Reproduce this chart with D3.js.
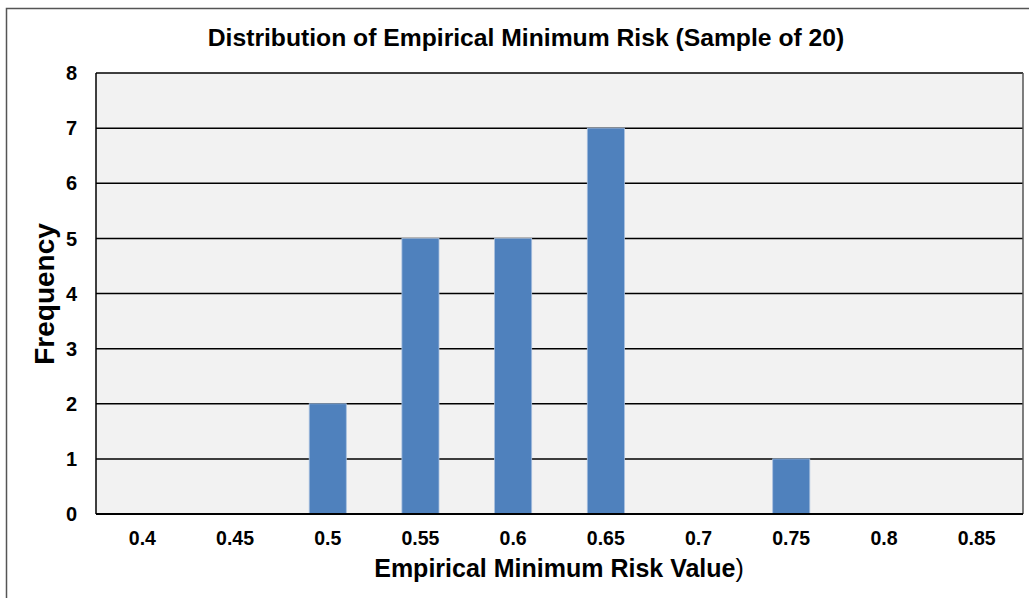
<!DOCTYPE html>
<html><head><meta charset="utf-8">
<script src="https://cdn.jsdelivr.net/npm/d3@7"></script>
<style>body{margin:0;background:#fff}svg{display:block}text{font-family:Arial,"Liberation Sans",sans-serif}</style>
</head><body><svg id="c" width="1029" height="598"></svg>
<script>
const categories = ["0.4","0.45","0.5","0.55","0.6","0.65","0.7","0.75","0.8","0.85"];
const frequencies = [0,0,2,5,5,7,0,1,0,0];
const yTicks = [0,1,2,3,4,5,6,7,8];
const titleText = "Distribution of Empirical Minimum Risk (Sample of 20)";
const xTitle = "Empirical Minimum Risk Value";
const yTitle = "Frequency";

const svg = d3.select("#c");
const m = {l:96, t:73, r:1023, b:514};
svg.append("rect").attr("x",6.5).attr("y",8.5).attr("width",1040).attr("height",620)
  .attr("fill","#fff").attr("stroke","#555").attr("stroke-width",1.5);

const x = d3.scaleBand().domain(categories).range([m.l,m.r]).paddingInner(0).paddingOuter(0);
const y = d3.scaleLinear().domain([0,8]).range([m.b,m.t]);

svg.append("rect").attr("x",m.l).attr("y",m.t).attr("width",m.r-m.l).attr("height",m.b-m.t).attr("fill","#f2f2f2");

svg.append("g").selectAll("line").data(yTicks.filter(d=>d>0&&d<8)).join("line")
  .attr("x1",m.l).attr("x2",m.r).attr("y1",d=>y(d)).attr("y2",d=>y(d))
  .attr("stroke","#000").attr("stroke-width",1.5);

const bw = x.bandwidth()*0.4;
svg.append("g").selectAll("rect").data(categories.map((c,i)=>({c,v:frequencies[i]})).filter(d=>d.v>0)).join("rect")
  .attr("x",d=>x(d.c)+x.bandwidth()/2-bw/2).attr("width",bw)
  .attr("y",d=>y(d.v)).attr("height",d=>y(0)-y(d.v))
  .attr("fill","#4f81bd").attr("stroke","#a7bfde").attr("stroke-width",0.8);

svg.append("line").attr("x1",m.l).attr("x2",m.r).attr("y1",m.t).attr("y2",m.t).attr("stroke","#000").attr("stroke-width",1.5);
svg.append("line").attr("x1",m.r).attr("x2",m.r).attr("y1",m.t).attr("y2",m.b).attr("stroke","#555").attr("stroke-width",1.5);
svg.append("line").attr("x1",m.l).attr("x2",m.l).attr("y1",m.t).attr("y2",m.b).attr("stroke","#000").attr("stroke-width",1.5);
svg.append("line").attr("x1",m.l).attr("x2",m.r).attr("y1",m.b).attr("y2",m.b).attr("stroke","#000").attr("stroke-width",2);

svg.append("g").selectAll("text").data(yTicks).join("text")
  .attr("x",77).attr("y",d=>y(d)).attr("dy","0.36em").attr("text-anchor","end")
  .attr("font-size",20).attr("font-weight","bold").text(d=>d);

svg.append("g").selectAll("text").data(categories).join("text")
  .attr("x",d=>x(d)+x.bandwidth()/2).attr("y",545).attr("text-anchor","middle")
  .attr("font-size",19.5).attr("font-weight","bold").text(d=>d);

svg.append("text").attr("x",526).attr("y",46).attr("text-anchor","middle")
  .attr("font-size",24.7).attr("font-weight","bold").text(titleText);

const xt = svg.append("text").attr("x",559).attr("y",577).attr("text-anchor","middle").attr("font-size",25);
xt.append("tspan").attr("font-weight","bold").text(xTitle);
xt.append("tspan").text(")");

svg.append("text").attr("transform","translate(54,294) rotate(-90)").attr("text-anchor","middle")
  .attr("font-size",28).attr("font-weight","bold").text(yTitle);
</script></body></html>
